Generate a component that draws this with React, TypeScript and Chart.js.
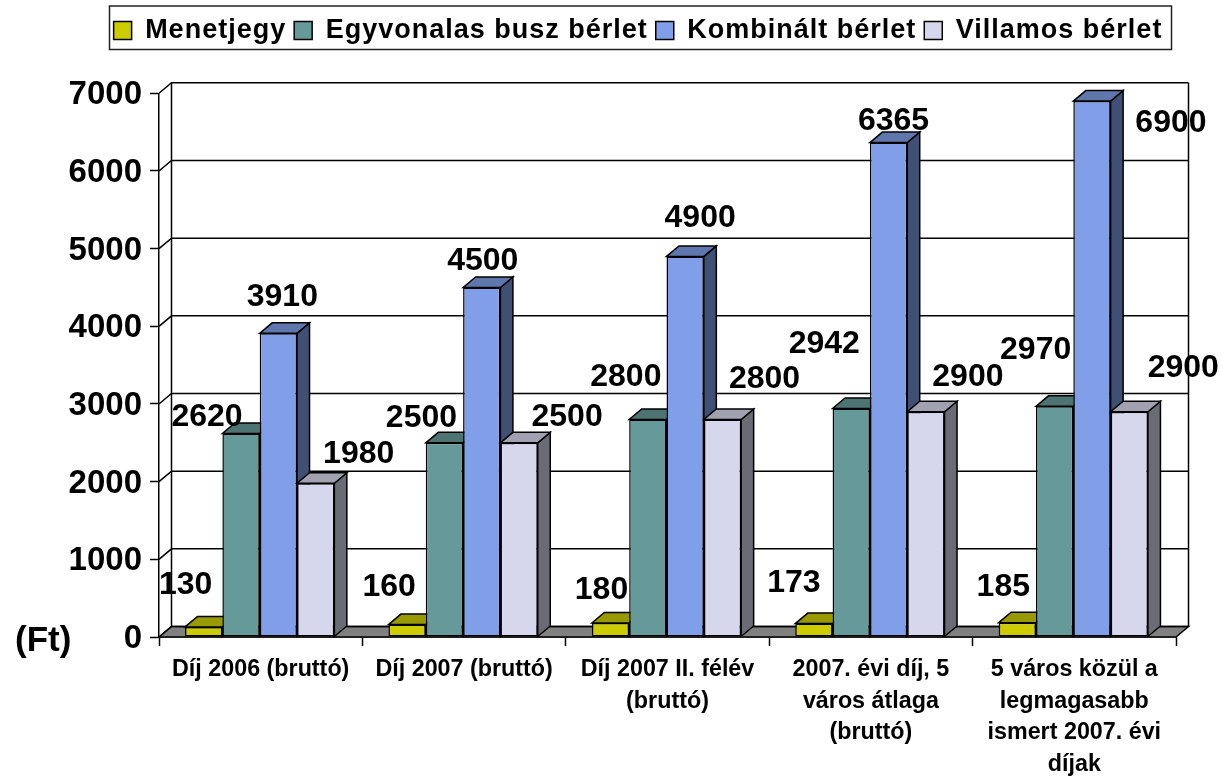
import React, { useEffect, useRef } from "react";
import { Chart, registerables } from "chart.js";

Chart.register(...registerables);

const categories = [
  "Díj 2006 (bruttó)",
  "Díj 2007 (bruttó)",
  ["Díj 2007 II. félév", "(bruttó)"],
  ["2007. évi díj, 5", "város átlaga", "(bruttó)"],
  ["5 város közül a", "legmagasabb", "ismert 2007. évi", "díjak"],
];
const menetjegy = [130, 160, 180, 173, 185];
const egyvonalas = [2620, 2500, 2800, 2942, 2970];
const kombinalt = [3910, 4500, 4900, 6365, 6900];
const villamos = [1980, 2500, 2800, 2900, 2900];

const seriesNames = ["Menetjegy", "Egyvonalas busz bérlet", "Kombinált bérlet", "Villamos bérlet"];
const seriesColors: [number, number, number][] = [
  [204, 204, 0],
  [102, 153, 153],
  [128, 159, 232],
  [214, 214, 236],
];

// Label nudges relative to each bar's top centre, as [dx, dy]
const labelOffsets: [number, number][][] = [
  [[-19, -44], [-19, -39], [-10, -35], [-21, -42], [-15, -37]],
  [[-35, -18], [-24, -27], [-23, -44], [-28, -66], [-20, -58]],
  [[3, -38], [0, -28], [14, -40], [4, -23], [78, 20]],
  [[42, -31], [47, -28], [41, -42], [41, -37], [53, -46]],
];

const DEPTH_X = 12.5;
const DEPTH_Y = 10.5;
const FONT = "'Liberation Sans', Arial, sans-serif";
const LEGEND_SPACING = "1px";
const LEGEND_SHIFT_X = 50;
const LEGEND_SHIFT_Y = 3;
const BAR_SHIFT_X = -1;
const LABEL_SHIFT_Y = 2;
const CHART_TOP = 93.3;

const rgb = (c: number[], k = 1) =>
  `rgb(${Math.round(c[0] * k)},${Math.round(c[1] * k)},${Math.round(c[2] * k)})`;

const poly = (ctx: CanvasRenderingContext2D, pts: number[][], fill: string) => {
  ctx.beginPath();
  pts.forEach((p, i) => (i ? ctx.lineTo(p[0], p[1]) : ctx.moveTo(p[0], p[1])));
  ctx.closePath();
  ctx.fillStyle = fill;
  ctx.fill();
  ctx.stroke();
};

const look3d = {
  id: "look3d",
  beforeLayout(chart: any) {
    const legend = chart.legend;
    chart.ctx.letterSpacing = LEGEND_SPACING;
    if (legend && !legend.__patched) {
      legend.__patched = true;
      const draw = legend.draw;
      legend.draw = function () {
        const c = chart.ctx;
        c.save();
        c.strokeStyle = "#222";
        c.lineWidth = 1.5;
        c.strokeRect(109.5, 6, 1062, 43.5);
        c.letterSpacing = LEGEND_SPACING;
        c.translate(LEGEND_SHIFT_X, LEGEND_SHIFT_Y);
        draw.call(this);
        c.restore();
      };
      const fit = legend.fit;
      legend.fit = function () {
        fit.call(this);
        this.height = CHART_TOP - 6;
      };
    }
  },
  afterLayout(chart: any) {
    chart.ctx.letterSpacing = "0px";
  },
  beforeDatasetsDraw(chart: any) {
    const { ctx, chartArea, scales } = chart;
    const { left, right, bottom } = chartArea;
    ctx.save();
    ctx.strokeStyle = "#000";
    ctx.lineWidth = 1.5;
    // floor
    poly(
      ctx,
      [
        [left, bottom],
        [right, bottom],
        [right + DEPTH_X, bottom - DEPTH_Y],
        [left + DEPTH_X, bottom - DEPTH_Y],
      ],
      "#808080"
    );
    // back wall gridlines and side wall diagonals
    ctx.beginPath();
    scales.y.ticks.forEach((t: any) => {
      const y = scales.y.getPixelForValue(t.value);
      ctx.moveTo(left, y);
      ctx.lineTo(left + DEPTH_X, y - DEPTH_Y);
      ctx.lineTo(right + DEPTH_X, y - DEPTH_Y);
    });
    const top = scales.y.getPixelForValue(scales.y.max);
    ctx.moveTo(left + DEPTH_X, top - DEPTH_Y);
    ctx.lineTo(left + DEPTH_X, bottom - DEPTH_Y);
    ctx.moveTo(right + DEPTH_X, top - DEPTH_Y);
    ctx.lineTo(right + DEPTH_X, bottom - DEPTH_Y);
    ctx.stroke();
    ctx.restore();

    // paint the series from left to right, so that each bar covers its neighbour's side
    ctx.save();
    ctx.translate(BAR_SHIFT_X, 0);
    chart.getSortedVisibleDatasetMetas().forEach((meta: any) => {
      const c = seriesColors[meta.index];
      ctx.save();
      ctx.strokeStyle = "#000";
      ctx.lineWidth = 1.5;
      meta.data.forEach((bar: any) => {
        const { x, y, base, width } = bar.getProps(["x", "y", "base", "width"], true);
        const l = x - width / 2;
        const r = x + width / 2;
        poly(
          ctx,
          [
            [r, y],
            [r + DEPTH_X, y - DEPTH_Y],
            [r + DEPTH_X, base - DEPTH_Y],
            [r, base],
          ],
          rgb(c, 0.5)
        );
        poly(
          ctx,
          [
            [l, y],
            [l + DEPTH_X, y - DEPTH_Y],
            [r + DEPTH_X, y - DEPTH_Y],
            [r, y],
          ],
          rgb(c, 0.75)
        );
      });
      ctx.restore();
      meta.controller.draw();
    });
    ctx.restore();
    return false;
  },
  afterDraw(chart: any) {
    const { ctx } = chart;
    ctx.save();
    ctx.fillStyle = "#000";
    ctx.textAlign = "center";
    ctx.textBaseline = "middle";
    ctx.font = `bold 32px ${FONT}`;
    chart.data.datasets.forEach((ds: any, di: number) => {
      chart.getDatasetMeta(di).data.forEach((bar: any, i: number) => {
        const { x, y } = bar.getProps(["x", "y"], true);
        const [dx, dy] = labelOffsets[di][i];
        ctx.fillText(String(ds.data[i]), x + dx, y + dy + LABEL_SHIFT_Y);
      });
    });
    ctx.font = `bold 35px ${FONT}`;
    ctx.textAlign = "left";
    ctx.fillText("(Ft)", 15, 641);
    ctx.restore();
  },
};

export default function App() {
  const ref = useRef<HTMLCanvasElement | null>(null);
  useEffect(() => {
    document.body.style.margin = "0";
    const seriesValues = [menetjegy, egyvonalas, kombinalt, villamos];
    const chart: any = new Chart(ref.current as HTMLCanvasElement, {
      type: "bar",
      data: {
        labels: categories as any,
        datasets: seriesNames.map((label, i) => ({
          label,
          data: seriesValues[i],
          backgroundColor: rgb(seriesColors[i]),
          borderColor: "#000",
          borderWidth: 1.5,
          borderSkipped: false,
          categoryPercentage: 0.734,
          barPercentage: 1,
        })),
      },
      plugins: [look3d as any],
      options: {
        responsive: false,
        animation: false,
        events: [],
        layout: { autoPadding: false, padding: { left: 0, right: 46, top: 6, bottom: 0 } },
        plugins: {
          tooltip: { enabled: false },
          legend: {
            display: true,
            position: "top",
            align: "center",
            labels: {
              color: "#000",
              boxWidth: 18,
              boxHeight: 18,
              padding: 8,
              font: { family: FONT, size: 27, weight: "bold" },
            },
          },
        },
        scales: {
          x: {
            grid: {
              display: true,
              drawOnChartArea: false,
              drawTicks: true,
              tickLength: 9,
              tickColor: "#000",
              tickWidth: 1.5,
            },
            border: { display: true, color: "#000", width: 1.5 },
            ticks: {
              color: "#000",
              maxRotation: 0,
              minRotation: 0,
              autoSkip: false,
              padding: 8,
              font: { family: FONT, size: 23.3, weight: "bold", lineHeight: 1.35 },
            },
            afterFit(s: any) {
              s.height = 140;
            },
          },
          y: {
            min: 0,
            max: 7000,
            grid: {
              display: true,
              drawOnChartArea: false,
              drawTicks: true,
              tickLength: 9,
              tickColor: "#000",
              tickWidth: 1.5,
            },
            border: { display: true, color: "#000", width: 1.5 },
            ticks: {
              stepSize: 1000,
              color: "#000",
              padding: 8,
              labelOffset: 2,
              font: { family: FONT, size: 33, weight: "bold" },
              callback: (v: any) => String(v),
            },
            afterFit(s: any) {
              s.width = 159;
            },
          },
        },
      },
    });
    return () => chart.destroy();
  }, []);
  return (
    <div style={{ position: "fixed", left: 0, top: 0, width: 1222, height: 777 }}>
      <canvas ref={ref} width={1222} height={777} />
    </div>
  );
}
